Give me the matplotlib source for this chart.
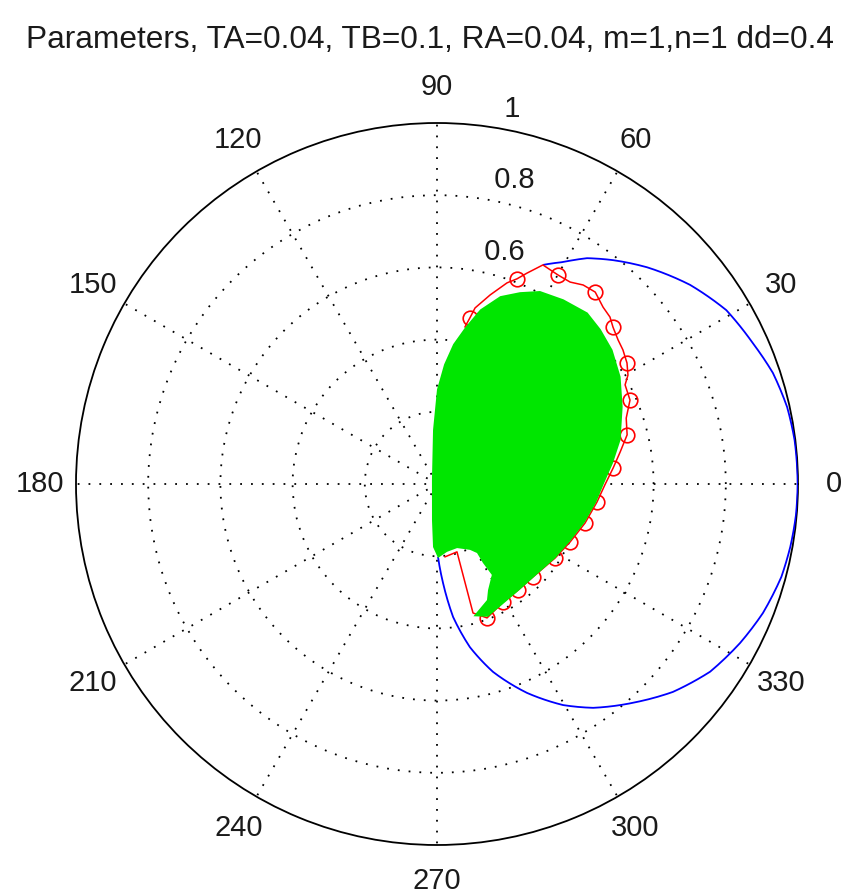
import numpy as np
import matplotlib
matplotlib.use('Agg')
import matplotlib.pyplot as plt
from matplotlib.path import Path
from matplotlib.patches import PathPatch

plt.rcParams['font.family'] = ['Liberation Sans', 'DejaVu Sans']

title = 'Parameters, TA=0.04, TB=0.1, RA=0.04, m=1,n=1 dd=0.4'

angle_ticks = [0, 30, 60, 90, 120, 150, 180, 210, 240, 270, 300, 330]
angle_labels = ['0', '30', '60', '90', '120', '150', '180', '210', '240', '270', '300', '330']
ring_values = [0.2, 0.4, 0.6, 0.8, 1.0]
ring_labels = ['0.2', '0.4', '0.6', '0.8', '1']

# blue curve (degrees, radius)
blue_theta = [-89.2, -86.5, -83.1, -78.6, -73.4, -66.7, -60.3, -55.1, -47.5, -41.4,
              -34.5, -27.7, -21.6, -15.1, -10.1, -5.0, 0.0, 7.0, 12.4, 18.3,
              24.0, 31.0, 38.2, 45.9, 51.8, 56.4, 60.4, 64.2]
blue_r = [0.202, 0.275, 0.371, 0.461, 0.543, 0.630, 0.705, 0.756, 0.819, 0.871,
          0.918, 0.948, 0.971, 0.988, 0.994, 0.998, 0.999, 0.998, 0.993, 0.980,
          0.958, 0.935, 0.892, 0.836, 0.789, 0.751, 0.707, 0.674]

# red curve (degrees, radius)
red_theta = [-83.7, -73.6, -74.4, -69.5, -60.8, -52.6, -44.1, -32.1, -23.6, -14.8,
             -6.4, -0.3, 5.2, 9.9, 14.5, 19.2, 23.5, 27.8, 29.7, 32.5,
             35.8, 38.5, 41.7, 44.0, 46.8, 50.5, 53.7, 56.6, 59.9, 64.2,
             66.9, 68.7, 70.8, 74.3, 77.8, 78.8, 79.9]
red_r = [0.203, 0.196, 0.371, 0.396, 0.375, 0.370, 0.370, 0.386, 0.402, 0.424,
         0.446, 0.465, 0.490, 0.515, 0.544, 0.555, 0.583, 0.589, 0.609, 0.624,
         0.635, 0.641, 0.653, 0.666, 0.672, 0.689, 0.684, 0.670, 0.669, 0.674,
         0.635, 0.610, 0.590, 0.544, 0.499, 0.469, 0.442]

# red circle markers (degrees, radius)
mark_theta = [-69.5, -60.8, -52.6, -44.1, -32.1, -23.6, -14.8, -6.4, 5.2, 14.5,
              23.5, 32.5, 41.7, 50.5, 59.9, 68.7, 78.8]
mark_r = [0.396, 0.375, 0.370, 0.370, 0.386, 0.402, 0.424, 0.446, 0.490, 0.544,
          0.583, 0.624, 0.653, 0.689, 0.669, 0.610, 0.469]

# green region outline (degrees, radius)
green_theta = [-74.6, -69.0, -60.0, -52.0, -44.5, -32.0, -23.0, -14.5, -6.5, 0.0, 6.8,
               13.5, 22.6, 30.3, 37.4, 43.4, 48.7, 55.6, 61.9, 66.6, 71.4,
               76.1, 79.8, 83.4, 86.6, 90.0, 94.2, 141.0, 262.1, 266.4, 270.8,
               278.4, 287.4, 296.6, 300.1, 300.2, 301.1, 295.7, 293.3]
green_r = [0.380, 0.394, 0.378, 0.372, 0.372, 0.387, 0.402, 0.423, 0.444, 0.462, 0.491,
           0.523, 0.557, 0.589, 0.612, 0.624, 0.632, 0.620, 0.606, 0.579, 0.549,
           0.498, 0.441, 0.390, 0.332, 0.262, 0.150, 0.018, 0.101, 0.175, 0.205,
           0.190, 0.186, 0.204, 0.221, 0.253, 0.294, 0.326, 0.350]

fig = plt.figure(figsize=(8.47, 8.96), dpi=100)
fig.patch.set_facecolor('white')
ax = fig.add_axes([76 / 847, 51 / 896, 722 / 847, 722 / 896], projection='polar')
ax.set_ylim(0, 1)
ax.set_xticks(np.deg2rad(angle_ticks))
ax.set_xticklabels([])
ax.set_yticks(ring_values[:-1])
ax.set_yticklabels([])
ax.grid(True, color='black', linestyle=(0, (1, 5)), linewidth=1.3)
ax.spines['polar'].set_color('black')
ax.spines['polar'].set_linewidth(1.3)

fs = 21
for a, l in zip(angle_ticks, angle_labels):
    ax.text(np.deg2rad(a), 1.1, l, ha='center', va='center', fontsize=fs,
            color='#1a1a1a', clip_on=False)
for v, l in zip(ring_values, ring_labels):
    ax.text(np.deg2rad(82), v + 0.01, '  ' + l, ha='left', va='bottom',
            fontsize=fs, color='#1a1a1a', clip_on=False, zorder=2)

# blue curve: segments follow the polar grid (smooth arcs between read points)
blue_path = Path(np.column_stack([np.deg2rad(blue_theta), blue_r]),
                 _interpolation_steps=12)
ax.add_patch(PathPatch(blue_path, fill=False, edgecolor='#0000ff',
                       linewidth=1.3, zorder=3, transform=ax.transData))

ax.plot(np.deg2rad(red_theta), red_r, color='#ff0000', linewidth=1.1, zorder=3)
ax.plot(np.deg2rad(mark_theta), mark_r, linestyle='none', marker='o',
        markersize=10.5, markerfacecolor='none', markeredgecolor='#ff0000',
        markeredgewidth=1.2, zorder=3)
ax.fill(np.deg2rad(green_theta), green_r, color='#00e600', zorder=4,
        linewidth=0)

fig.text(430 / 847, 1 - 40 / 896, title, ha='center', va='center',
         fontsize=22.8, color='#1a1a1a')

fig.savefig('out.png', dpi=100, facecolor='white')
